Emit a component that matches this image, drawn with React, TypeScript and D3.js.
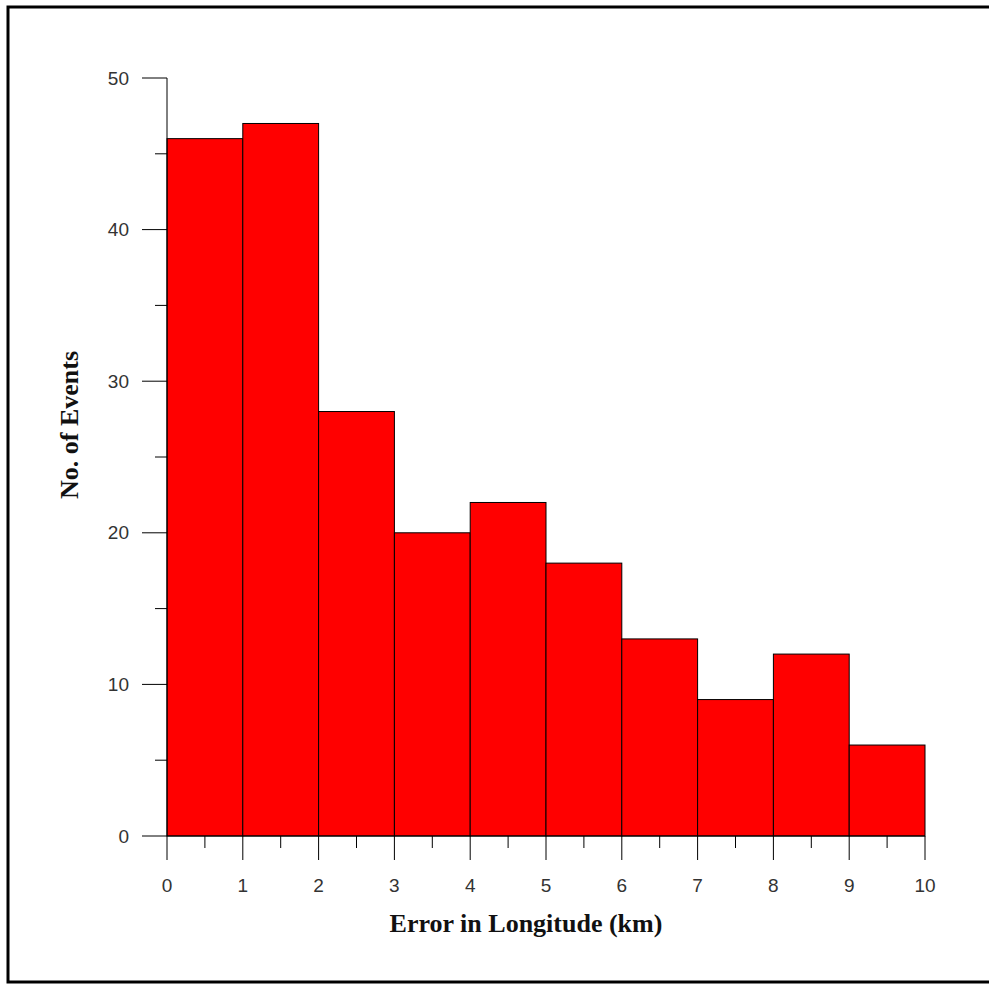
import React from "react";
import * as d3 from "d3";

const binStarts = [0, 1, 2, 3, 4, 5, 6, 7, 8, 9];
const counts = [46, 47, 28, 20, 22, 18, 13, 9, 12, 6];
const xMajorTicks = [0, 1, 2, 3, 4, 5, 6, 7, 8, 9, 10];
const xMinorTicks = [0.5, 1.5, 2.5, 3.5, 4.5, 5.5, 6.5, 7.5, 8.5, 9.5];
const yMajorTicks = [0, 10, 20, 30, 40, 50];
const yMinorTicks = [5, 15, 25, 35, 45];
const xTitle = "Error in Longitude (km)";
const yTitle = "No. of Events";

export default function App() {
  const W = 989;
  const H = 984;
  const x = d3.scaleLinear().domain([0, 10]).range([167, 925]);
  const y = d3.scaleLinear().domain([0, 50]).range([836, 78]);
  const tickFont = "'Liberation Sans', Arial, sans-serif";
  const titleFont = "'Liberation Serif', 'Times New Roman', serif";
  return (
    <svg
      width={W}
      height={H}
      style={{ position: "absolute", left: 0, top: 0, background: "#fff" }}
    >
      <rect x={0} y={0} width={W} height={H} fill="#fff" />
      <rect x={8} y={7} width={990} height={975} fill="none" stroke="#000" strokeWidth={3} />
      {binStarts.map((b, i) => (
        <rect
          key={i}
          x={x(b)}
          y={y(counts[i])}
          width={x(b + 1) - x(b)}
          height={y(0) - y(counts[i])}
          fill="#ff0000"
          stroke="#000"
          strokeWidth={1}
        />
      ))}
      {/* y axis */}
      <line x1={x(0)} x2={x(0)} y1={y(0)} y2={y(50)} stroke="#000" strokeWidth={1} />
      {yMajorTicks.map((t) => (
        <g key={"ym" + t}>
          <line x1={x(0) - 25} x2={x(0)} y1={y(t)} y2={y(t)} stroke="#000" strokeWidth={1} />
          <text
            x={129}
            y={y(t)}
            dy="0.35em"
            textAnchor="end"
            fontFamily={tickFont}
            fontSize={19}
            fill="#333"
          >
            {t}
          </text>
        </g>
      ))}
      {yMinorTicks.map((t) => (
        <line key={"yn" + t} x1={x(0) - 12} x2={x(0)} y1={y(t)} y2={y(t)} stroke="#000" strokeWidth={1} />
      ))}
      {/* x axis */}
      <line x1={x(0)} x2={x(10)} y1={y(0)} y2={y(0)} stroke="#000" strokeWidth={1} />
      {xMajorTicks.map((t) => (
        <g key={"xm" + t}>
          <line x1={x(t)} x2={x(t)} y1={y(0)} y2={y(0) + 24} stroke="#000" strokeWidth={1} />
          <text
            x={x(t)}
            y={892}
            textAnchor="middle"
            fontFamily={tickFont}
            fontSize={19}
            fill="#333"
          >
            {t}
          </text>
        </g>
      ))}
      {xMinorTicks.map((t) => (
        <line key={"xn" + t} x1={x(t)} x2={x(t)} y1={y(0)} y2={y(0) + 12} stroke="#000" strokeWidth={1} />
      ))}
      <text
        x={526}
        y={932}
        textAnchor="middle"
        fontFamily={titleFont}
        fontWeight="bold"
        fontSize={26}
        fill="#111"
      >
        {xTitle}
      </text>
      <text
        transform={`translate(78, 425) rotate(-90)`}
        textAnchor="middle"
        fontFamily={titleFont}
        fontWeight="bold"
        fontSize={26}
        fill="#111"
      >
        {yTitle}
      </text>
    </svg>
  );
}
